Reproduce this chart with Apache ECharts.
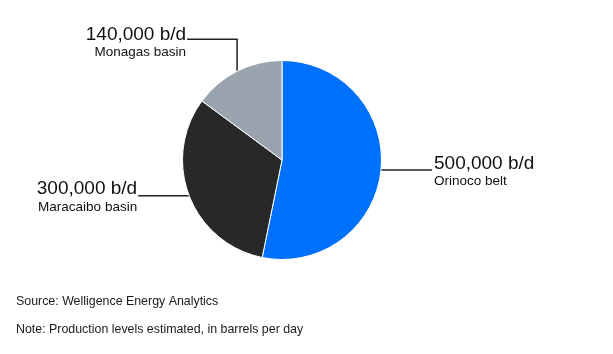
<!DOCTYPE html>
<html>
<head>
<meta charset="utf-8">
<script src="https://cdn.jsdelivr.net/npm/echarts@6/dist/echarts.min.js"></script>
<style>
  html, body { margin: 0; padding: 0; background: #fff; }
  #chart { width: 613px; height: 354px; }
</style>
</head>
<body>
<div id="chart"></div>
<script>
// 产量数据（桶/日）
var regions = ['Orinoco belt', 'Maracaibo basin', 'Monagas basin']
var barrels = [500000, 300000, 140000]
var colors = ['#0070ff', '#282828', '#9aa4af']

var FONT = '"Liberation Sans", Arial, sans-serif'

var myChart = echarts.init(document.getElementById('chart'))

function fmt(v) {
  return v.toLocaleString('en-US') + ' b/d'
}

myChart.setOption({
  animation: false,
  graphic: [
    {
      type: 'text',
      left: 16,
      top: 296,
      style: { text: 'Source: Welligence Energy Analytics', fontFamily: FONT, fontSize: 12.4, fill: '#1a1a1a' }
    },
    {
      type: 'text',
      left: 16,
      top: 324,
      style: { text: 'Note: Production levels estimated, in barrels per day', fontFamily: FONT, fontSize: 12.4, fill: '#1a1a1a' }
    }
  ],
  series: [
    {
      type: 'pie',
      center: [282, 160],
      radius: 99.5,
      startAngle: 90,
      clockwise: true,
      itemStyle: { borderColor: '#fff', borderWidth: 1 },
      label: {
        show: true,
        formatter: function (p) {
          return '{v|' + fmt(p.value) + '}\n{n|' + p.name + '}'
        },
        rich: {
          v: { fontFamily: FONT, fontSize: 19, color: '#111', lineHeight: 21 },
          n: { fontFamily: FONT, fontSize: 13.5, color: '#111', lineHeight: 15 }
        }
      },
      labelLine: {
        show: true,
        length: 10,
        length2: 10,
        lineStyle: { color: '#222', width: 1.5 }
      },
      // 自定义引导线：根据扇区边缘点调整
      labelLayout: function (p) {
        var e = p.labelLinePoints[0]
        var i = p.dataIndex
        if (i === 0) {
          var end = [e[0] + 51, e[1]]
          return {
            x: end[0] + 2, y: e[1] - 17, align: 'left', verticalAlign: 'top',
            labelLinePoints: [e, end, end]
          }
        } else if (i === 1) {
          var end1 = [e[0] - 51, e[1]]
          return {
            x: end1[0] - 1, y: e[1] - 17, align: 'right', verticalAlign: 'top',
            labelLinePoints: [e, end1, end1]
          }
        } else {
          var mid = [e[0], e[1] - 32]
          var end2 = [e[0] - 50, e[1] - 32]
          return {
            x: end2[0] - 1, y: mid[1] - 15, align: 'right', verticalAlign: 'top',
            labelLinePoints: [e, mid, end2]
          }
        }
      },
      data: regions.map(function (name, i) {
        return { name: name, value: barrels[i], itemStyle: { color: colors[i] } }
      })
    }
  ]
})

window.onresize = function () {
  myChart.resize()
}
</script>
</body>
</html>
